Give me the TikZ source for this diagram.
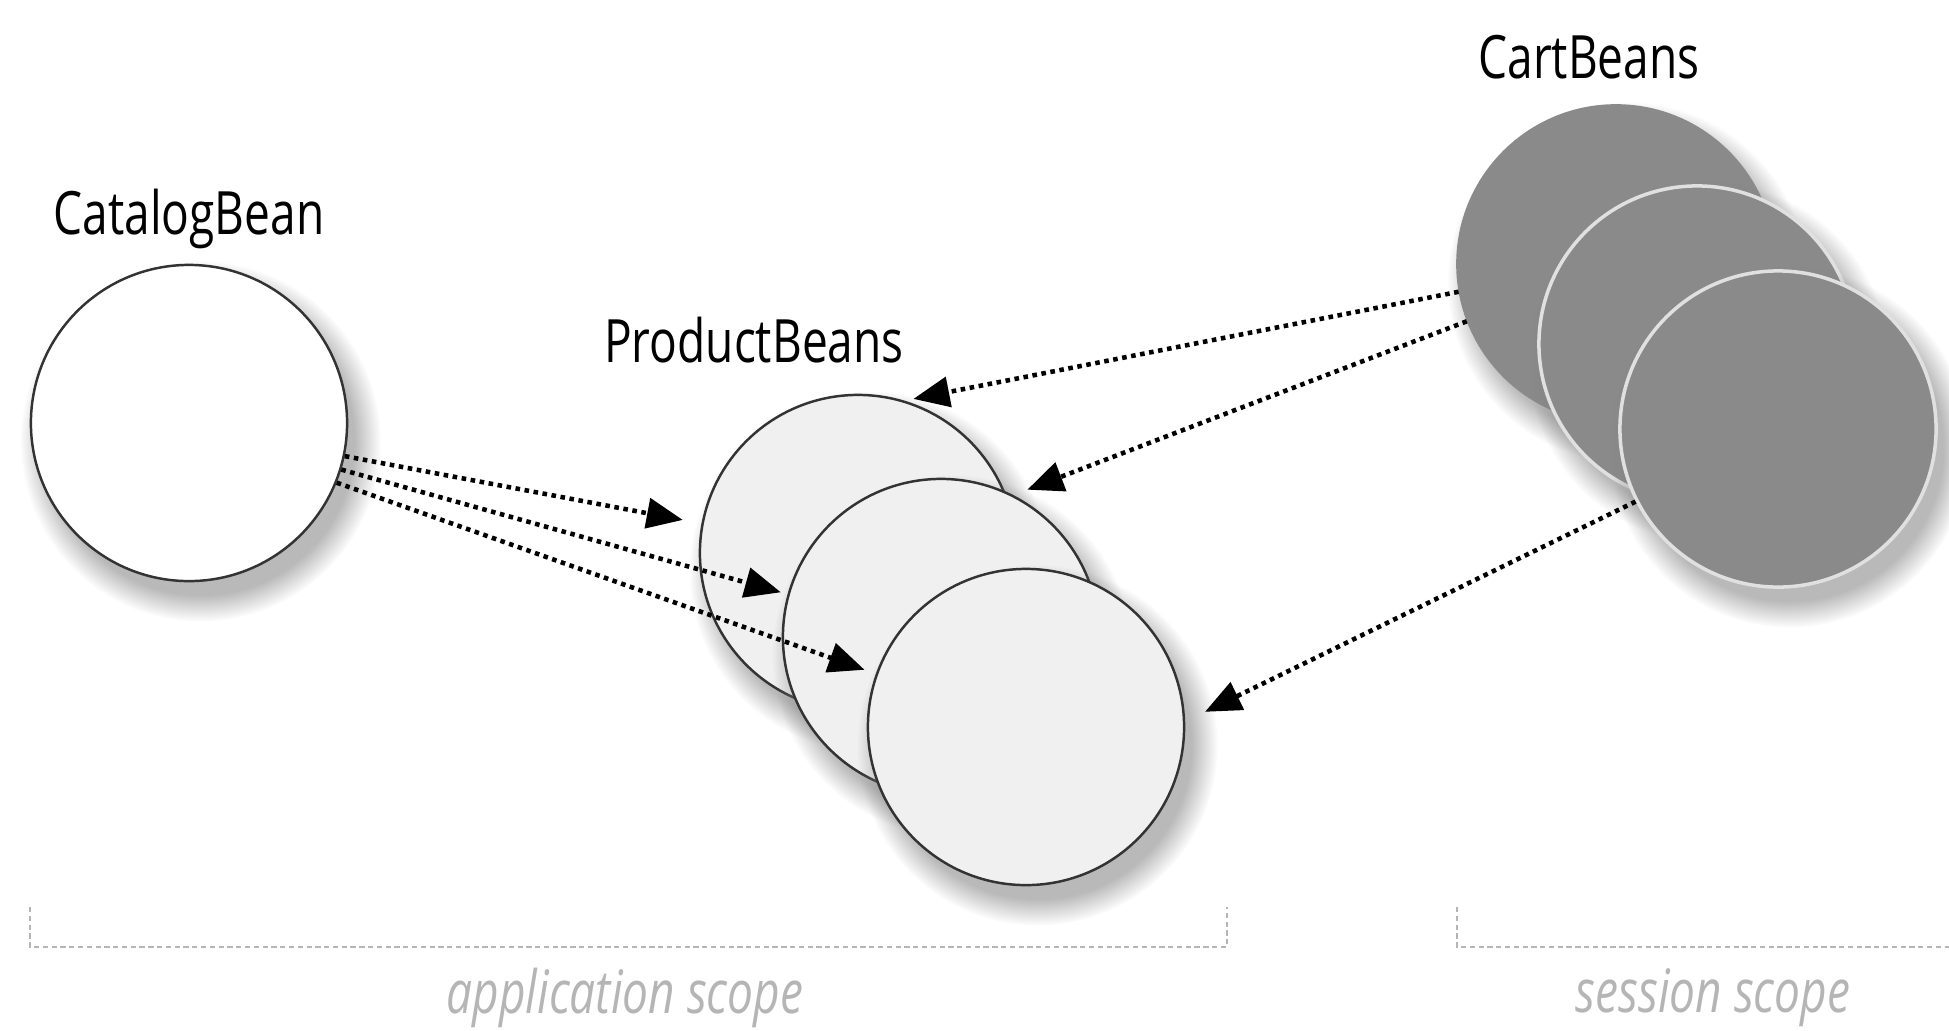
\documentclass[tikz,border=0pt]{standalone}
\usepackage{fontspec}
\setmainfont{Open Sans}[FakeStretch=0.77]
\usetikzlibrary{arrows.meta,positioning,shadows}
\definecolor{beanline}{HTML}{333333}
\definecolor{prodfill}{HTML}{F0F0F0}
\definecolor{cartfill}{HTML}{8A8A8A}
\definecolor{scopegray}{HTML}{B5B5B5}

\begin{document}
\begin{tikzpicture}[x=0.01cm, y=-0.01cm,
                bean/.style={circle, draw=beanline, line width=0.7pt, minimum size=3.16cm, inner sep=0pt,
                    circular drop shadow={shadow xshift=0.1cm, shadow yshift=-0.16cm, shadow scale=1.14, opacity=0.55}},
                product/.style={bean, fill=prodfill},
                cart/.style={bean, fill=cartfill, draw=white!88!black, line width=1pt},
                beanname/.style={font=\fontsize{17}{20}\selectfont, inner sep=0pt, text depth=0pt},
                scopeline/.style={draw=scopegray, line width=0.6pt, dash pattern=on 1.5pt off 1pt},
                scopetext/.style={font=\fontsize{17}{20}\selectfont\itshape, text=scopegray},
                arrow/.style={-{Triangle[length=0.36cm, width=0.3cm]}, line width=1.3pt, dash pattern=on 1.3pt off 1.3pt}
            ]
            \useasboundingbox (0,0) rectangle (1949,1030);

            \node[bean, fill=white] (catalog) at (189,423) {};
            \node[beanname, above=0.28cm of catalog] (catalogname) {CatalogBean};

            \node[product] (prod1) at (858,553) {};
            \node[product] (prod2) at (941,637) {};
            \node[product] (prod3) at (1026,727) {};
            \node[beanname, above=0.30cm of prod1, xshift=-1.04cm] (prodname) {ProductBeans};

            \node[cart, draw=cartfill] (cart1) at (1616,264) {};
            \node[cart] (cart2) at (1697,344) {};
            \node[cart] (cart3) at (1778,429) {};
            \node[beanname, above=0.25cm of cart1, xshift=-0.27cm] (cartname) {CartBeans};

            \draw[arrow, shorten >=0.19cm] (catalog.-12) -- (prod1);
            \draw[arrow, shorten >=0.07cm] (catalog.-17) -- (prod2);
            \draw[arrow, shorten >=0.12cm] (catalog.-22) -- (prod3);

            \draw[arrow, shorten >=0.09cm] (cart1.190) -- (prod1.73);
            \draw[arrow, shorten >=0.15cm] (cart1.201) -- (prod2.63);
            \draw[arrow, shorten >=0.22cm] (cart3.207) -- (prod3.2);

            \draw[scopeline] (30,907) |- (1227,947) -- (1227,907);
            \draw[scopeline] (1457,907) |- (1949,947);

            \node[scopetext] (appscope) at (625,998) {application scope};
            \node[scopetext] (sessscope) at (1713,998) {session scope};

        \end{tikzpicture}
\end{document}
